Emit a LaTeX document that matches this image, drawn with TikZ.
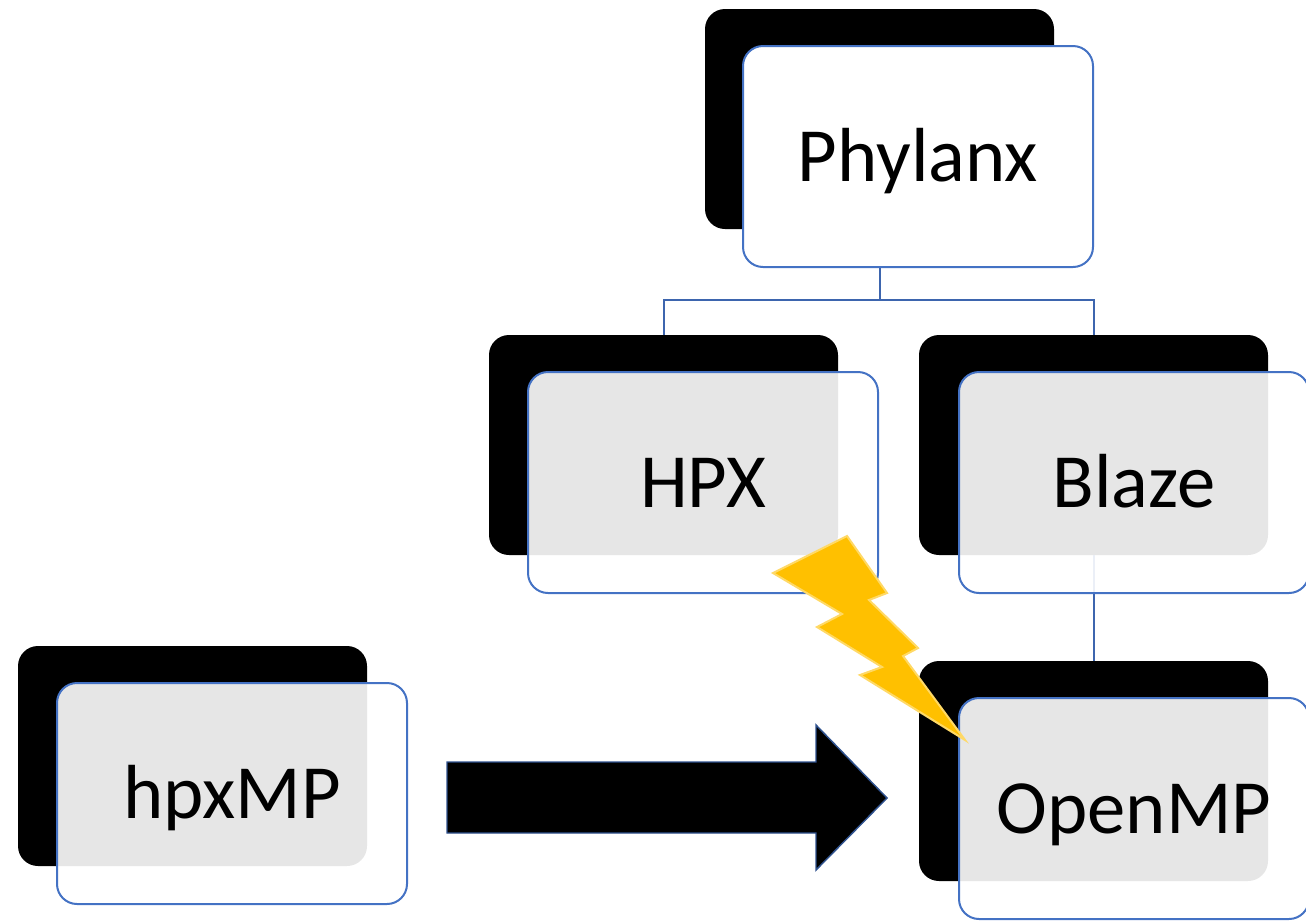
\documentclass[tikz,border=0pt]{standalone}
\usepackage{fontspec}
\setmainfont{Carlito}
\definecolor{boxblue}{HTML}{4472C4}
\definecolor{lineblue}{HTML}{3D65AE}
\definecolor{arrowblue}{HTML}{2F528F}
\definecolor{boltfill}{HTML}{FFC000}
\definecolor{boltline}{HTML}{FFD966}
\begin{document}
\begin{tikzpicture}[x=0.75pt,y=-0.75pt]
\tikzset{
 shadowbox/.style={fill=black, rounded corners=15pt, minimum width=261.75pt, minimum height=165pt, inner sep=0pt, outer sep=0pt, anchor=north west},
 frontbox/.style={draw=boxblue, line width=1.5pt, fill=white, fill opacity=0.9, text opacity=1, rounded corners=15pt, minimum width=262.5pt, minimum height=165.75pt, inner sep=0pt, outer sep=0pt, anchor=north west, font=\fontsize{57.5}{62}\selectfont, text height=37pt, text depth=0pt},
 solidbox/.style={frontbox, fill opacity=1},
 conn/.style={draw=lineblue, line width=1.5pt},
 bigarrow/.style={fill=black, draw=arrowblue, line width=1.1pt, line join=miter},
 bolt/.style={fill=boltfill, draw=boltline, line width=1.5pt, line join=miter},
}
\useasboundingbox (0,0) rectangle (1306,922);
% shadow boxes
\node[shadowbox] (phyB) at (705,9) {};
\node[shadowbox] (hpxB) at (489,335) {};
\node[shadowbox] (blzB) at (919,335) {};
\node[shadowbox] (mpB) at (18,646) {};
\node[shadowbox] (ompB) at (919,661) {};
% connectors
\coordinate (bus) at (0,300);
\draw[conn] (phyB.south) -- (phyB.south |- bus);
\draw[conn] (hpxB.north) -- (hpxB.north |- bus) -| (blzB.north);
\draw[conn] (blzB.south) -- (ompB.north);
% front boxes
\node[solidbox] (phy) at (743,46) {Phylanx};
\node[frontbox] (hpx) at (528,372) {HPX};
\node[frontbox] (blz) at (959,372) {Blaze};
\node[frontbox] (mp) at (57,683) {hpxMP};
\node[frontbox] (omp) at (959,698) {OpenMP};
% block arrow
\draw[bigarrow] (447,762) -- (816,762) -- (816,725) -- (887,798) -- (816,870) -- (816,833) -- (447,833) -- cycle;
% lightning bolt
\draw[bolt] (847,536) -- (887,593) -- (869,600) -- (918,648) -- (903,656) -- (965,740) -- (860,675) -- (882,667) -- (817,627) -- (842,614) -- (773,573) -- cycle;
\end{tikzpicture}
\end{document}
